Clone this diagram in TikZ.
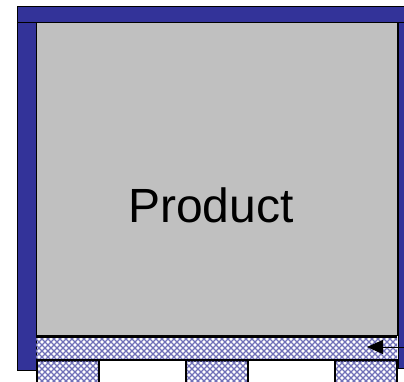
\documentclass[tikz,border=0pt]{standalone}
\usepackage{fontspec}
\setmainfont{Liberation Sans}
\usetikzlibrary{patterns,arrows.meta}
\definecolor{frameblue}{RGB}{51,51,153}
\definecolor{prodgrey}{RGB}{192,192,192}
\pgfdeclarepatternformonly{coarsecross}{\pgfqpoint{-1pt}{-1pt}}{\pgfqpoint{7pt}{7pt}}{\pgfqpoint{6pt}{6pt}}{
  \pgfsetlinewidth{1.1pt}
  \pgfpathmoveto{\pgfqpoint{-0.5pt}{-0.5pt}}\pgfpathlineto{\pgfqpoint{6.5pt}{6.5pt}}
  \pgfpathmoveto{\pgfqpoint{-0.5pt}{6.5pt}}\pgfpathlineto{\pgfqpoint{6.5pt}{-0.5pt}}
  \pgfusepath{stroke}
}
\tikzset{
  framebar/.style={draw=black, line width=1pt, fill=frameblue},
  hatched/.style={pattern=coarsecross, pattern color=frameblue!70},
  blockbox/.style={draw=black, line width=1.5pt, rectangle, inner sep=0pt, outer sep=0pt, anchor=north west},
}
\begin{document}
\begin{tikzpicture}[x=1pt,y=-1pt]
\useasboundingbox (0,0) rectangle (404,381);
\clip (0,0) rectangle (404,381);
% frame
\fill[white] (0,0) rectangle (404,381);
\draw[framebar] (17,6) rectangle (412,22);
\draw[framebar] (17,22) rectangle (36,370);
\draw[framebar] (398,22) rectangle (412,368);
% product box
\node[draw=black, line width=1.2pt, fill=prodgrey, rectangle, inner sep=0pt, anchor=north west,
      minimum width=361pt, minimum height=313pt] (product) at (36,22) {};
\node[font=\fontsize{48}{58}\selectfont] (label) at (211,205) {Product};
% deck
\node[rectangle, inner sep=0pt, anchor=north west, fill=white, hatched,
      minimum width=361pt, minimum height=24pt] (deck) at (36,336.5) {};
\draw[line width=3pt] (deck.north west) -- (deck.north east);
\draw[line width=3pt] (deck.south west) -- (deck.south east);
% blocks
\node[blockbox, fill=white, hatched, minimum width=62pt, minimum height=30pt] (b1) at (37,360) {};
\node[blockbox, fill=white, minimum width=87pt, minimum height=30pt] (w1) at (99,360) {};
\node[blockbox, fill=white, hatched, minimum width=62pt, minimum height=30pt] (b2) at (186,360) {};
\node[blockbox, fill=white, minimum width=87pt, minimum height=30pt] (w2) at (248,360) {};
\node[blockbox, fill=white, hatched, minimum width=62pt, minimum height=30pt] (b3) at (335,360) {};
% arrow
\coordinate (astart) at (404,347);
\coordinate (atip) at (367,347);
\draw[line width=1pt, -{Triangle[length=16pt,width=14pt]}] (astart) -- (atip);
\end{tikzpicture}
\end{document}
